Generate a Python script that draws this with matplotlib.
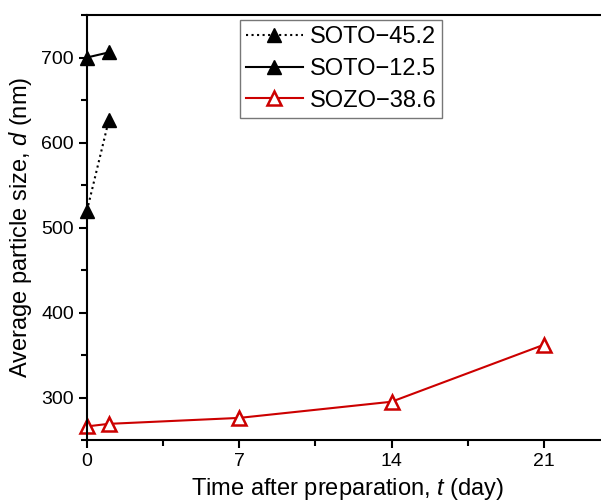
import matplotlib
matplotlib.use('Agg')
import matplotlib.pyplot as plt
from matplotlib.ticker import MultipleLocator

plt.rcParams['font.family'] = ['Liberation Sans', 'DejaVu Sans']
plt.rcParams['mathtext.fontset'] = 'custom'
plt.rcParams['mathtext.it'] = 'Liberation Sans:italic'
plt.rcParams['mathtext.rm'] = 'Liberation Sans'

# data
days_short = [0, 1]
soto45 = [520, 626]
soto12 = [700, 706]
days_long = [0, 1, 7, 14, 21]
sozo38 = [266, 269, 276, 295, 362]

labels = ['SOTO\u221245.2', 'SOTO\u221212.5', 'SOZO\u221238.6']

fig = plt.figure(figsize=(6.01, 5.03), dpi=100)
# right spine lies just off the picture, as in the reference
ax = fig.add_axes([87/601, 63/503, 522/601, 425/503])

ax.plot(days_short, soto45, ':', color='black', lw=1.5, marker='^', ms=10.5,
        mfc='black', mec='black', label=labels[0], clip_on=False)
ax.plot(days_short, soto12, '-', color='black', lw=1.5, marker='^', ms=10.5,
        mfc='black', mec='black', label=labels[1], clip_on=False)
ax.plot(days_long, sozo38, '-', color='#cc0000', lw=1.5, marker='^', ms=10.5,
        mfc='white', mec='#cc0000', mew=1.8, label=labels[2], clip_on=False)

ax.set_xlim(0, 24)
ax.set_ylim(250, 750)
ax.xaxis.set_major_locator(MultipleLocator(7))
ax.xaxis.set_minor_locator(MultipleLocator(3.5))
ax.yaxis.set_major_locator(MultipleLocator(100))
ax.yaxis.set_minor_locator(MultipleLocator(50))
ax.set_yticks([300, 400, 500, 600, 700])
ax.tick_params(which='major', length=6, width=1.5, labelsize=14, direction='out')
ax.tick_params(which='minor', length=4, width=1.5, direction='out')
for s in ax.spines.values():
    s.set_linewidth(1.5)

ax.set_xlabel('Time after preparation, $t$ (day)', fontsize=17, labelpad=4)
ax.set_ylabel('Average particle size, $d$ (nm)', fontsize=17, labelpad=5)

leg = ax.legend(loc='upper left', bbox_to_anchor=(240/601, 1 - 20/503),
                bbox_transform=fig.transFigure, fontsize=17, frameon=True,
                fancybox=False, edgecolor='#555555', borderaxespad=0,
                handlelength=2.4, handletextpad=0.3, labelspacing=0.42,
                borderpad=0.25)
leg.get_frame().set_linewidth(1.0)

fig.savefig('out.png', dpi=100)
